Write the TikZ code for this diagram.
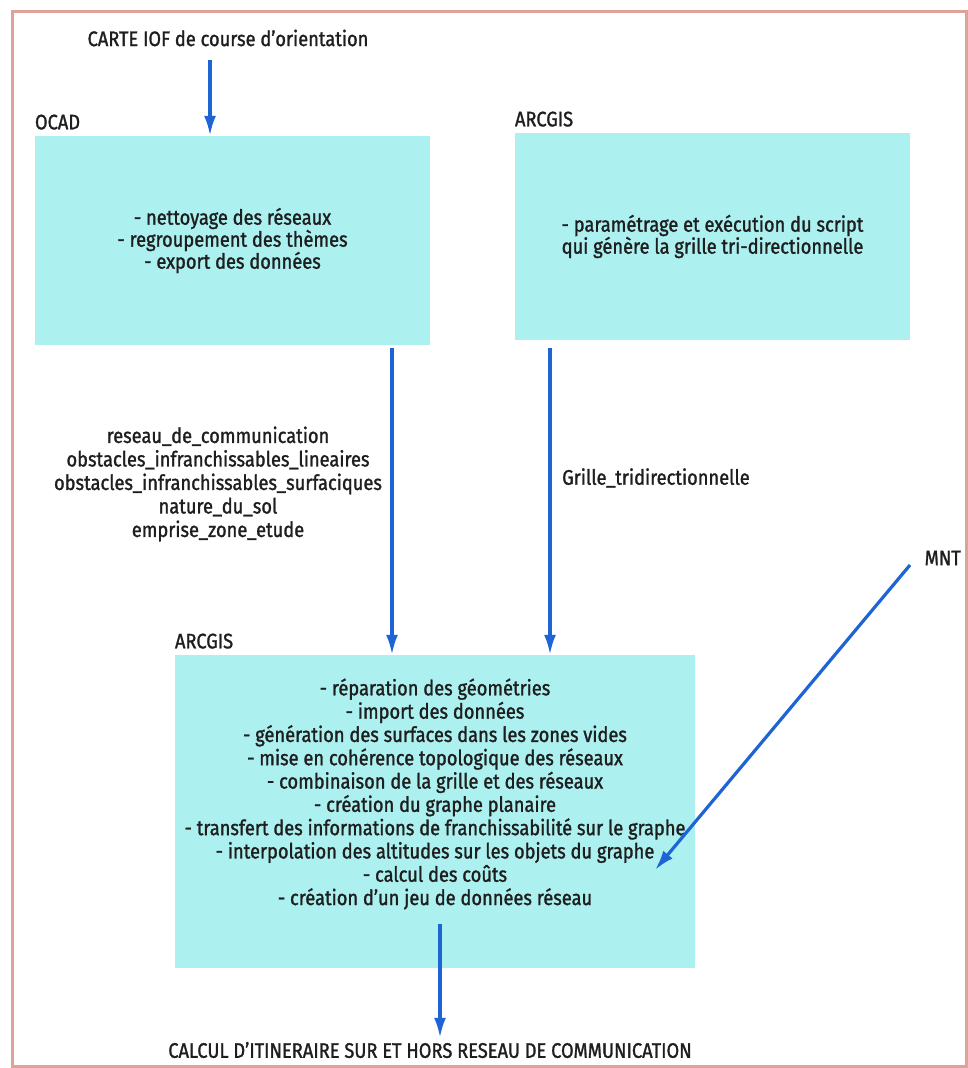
\documentclass[tikz,border=0pt]{standalone}
\usepackage{fontspec}
\setmainfont{Fira Sans}[FakeStretch=0.87, FakeBold=1.3]
\usetikzlibrary{arrows.meta,positioning,calc}

\definecolor{cyanbox}{RGB}{172,240,240}
\definecolor{bleufleche}{RGB}{30,100,212}
\definecolor{cadre}{RGB}{222,162,150}
\definecolor{encre}{RGB}{30,30,30}

\tikzset{
  boite/.style={fill=cyanbox, draw=none, minimum width=#1, inner sep=0pt, align=center,
    text=encre, font=\fontsize{21}{22}\selectfont},
  titre/.style={anchor=south west, inner sep=0pt, text=encre, font=\fontsize{21}{22}\selectfont, yshift=6pt},
  texte/.style={text=encre, align=center, inner sep=0pt, font=\fontsize{21}{23.5}\selectfont},
  fleche/.style={bleufleche, line width=3.2pt, -{Latex[length=20pt,width=12pt]}}
}

\begin{document}
\begin{tikzpicture}[x=1pt,y=-1pt]
  \useasboundingbox (0,0) rectangle (968,1068);
  \draw[cadre, line width=3pt] (12,11) rectangle (966,1066);

  % boites
  \node[boite=395pt, minimum height=209pt] (ocad) at (232.5,240.5)
    {- nettoyage des réseaux\\- regroupement des thèmes\\- export des données};
  \node[boite=395pt, minimum height=207pt] (arcgis) at (712.5,236.5)
    {- paramétrage et exécution du script\\qui génère la grille tri-directionnelle};
  \node[boite=520pt, minimum height=313pt] (bas) at (435,811.5) {};
  \node[texte, font=\fontsize{21}{23.3}\selectfont] (etapes) at (435,794)
    {- réparation des géométries\\
     - import des données\\
     - génération des surfaces dans les zones vides\\
     - mise en cohérence topologique des réseaux\\
     - combinaison de la grille et des réseaux\\
     - création du graphe planaire\\
     - transfert des informations de franchissabilité sur le graphe\\
     - interpolation des altitudes sur les objets du graphe\\
     - calcul des coûts\\
     - création d'un jeu de données réseau};

  % titres des boites
  \node[titre] at (ocad.north west) {OCAD};
  \node[titre] at (arcgis.north west) {ARCGIS};
  \node[titre] at (bas.north west) {ARCGIS};

  % textes libres
  \node[texte] (carte) at (228,38) {CARTE IOF de course d'orientation};
  \node[texte] (couches) at (218,484)
    {reseau\_de\_communication\\obstacles\_infranchissables\_lineaires\\
     obstacles\_infranchissables\_surfaciques\\nature\_du\_sol\\emprise\_zone\_etude};
  \node[texte, anchor=west] (grille) at (562,478) {Grille\_tridirectionnelle};
  \node[texte, anchor=east] (mnt) at (961,558) {MNT};
  \node[texte] (calcul) at (430,1050) {CALCUL D'ITINERAIRE SUR ET HORS RESEAU DE COMMUNICATION};

  % fleches
  \coordinate (c1) at (210,60);
  \coordinate (c2) at (392,348);
  \coordinate (c3) at (550,348);
  \coordinate (c4) at (910,565);
  \coordinate (cible) at (655,870);
  \coordinate (depart) at (440,924);
  \draw[fleche] (c1) -- (c1 |- ocad.north);
  \draw[fleche] (c2) -- (c2 |- bas.north);
  \draw[fleche] (c3) -- (c3 |- bas.north);
  \draw[fleche] (c4) -- (cible);
  \draw[fleche] (depart) -- ($(depart |- calcul.north)+(0,-4)$);
\end{tikzpicture}
\end{document}
